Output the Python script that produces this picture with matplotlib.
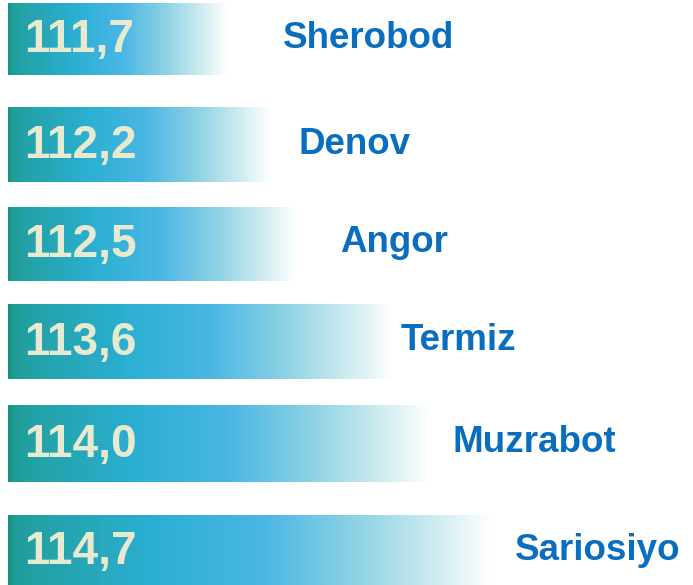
import matplotlib
matplotlib.use("Agg")
import matplotlib.pyplot as plt
import numpy as np
from matplotlib.colors import LinearSegmentedColormap
import matplotlib.transforms as mtransforms

# ---- data ----
districts = ["Sherobod", "Denov", "Angor", "Termiz", "Muzrabot", "Sariosiyo"]
values = [111.7, 112.2, 112.5, 113.6, 114.0, 114.7]
value_labels = ["111,7", "112,2", "112,5", "113,6", "114,0", "114,7"]

# ---- layout (pixel units) ----
W, H, DPI = 693, 585, 100
px_per_unit = 88.3
left_px = 8
x_min = 109.23 - left_px / px_per_unit
x_max = x_min + W / px_per_unit
y_centers = [39, 145, 244, 342, 444, 551]
bar_heights = [72, 75, 74, 75, 77, 72]
label_gap_px = [57, 28, 43, 7, 23, 24]
baseline = 109.23

cmap = LinearSegmentedColormap.from_list("bar", [
    (0.0, "#178f80"),
    (0.012, "#1f9c96"),
    (0.05, "#22a1a4"),
    (0.30, "#2bafd2"),
    (0.52, "#49b6e4"),
    (0.72, "#8dd2e4"),
    (0.88, "#cdebf0"),
    (1.0, "#ffffff"),
])

fig = plt.figure(figsize=(W / DPI, H / DPI), dpi=DPI)
ax = fig.add_axes([0, 0, 1, 1])
ax.set_xlim(x_min, x_max)
ax.set_ylim(H, 0)
ax.axis("off")

grad = np.linspace(0, 1, 512).reshape(1, -1)
for name, v, lab, yc, h, gap in zip(districts, values, value_labels,
                                     y_centers, bar_heights, label_gap_px):
    ax.imshow(grad, cmap=cmap, aspect="auto", interpolation="bilinear",
              extent=(baseline, v, yc + h / 2, yc - h / 2), zorder=1)
    ax.text(baseline + 16 / px_per_unit, yc + 1, lab, color="#e8ead0",
            fontsize=33, fontweight="bold", family="Liberation Sans",
            va="center", ha="left", zorder=3)
    tr = mtransforms.offset_copy(ax.transData, fig=fig, x=gap * 72 / DPI,
                                 y=1 * 72 / DPI, units="points")
    ax.text(v, yc, name, color="#0a6ec0", fontsize=26.5, fontweight="bold",
            family="Liberation Sans", va="center", ha="left",
            transform=tr, zorder=3)

ax.set_xlim(x_min, x_max)
ax.set_ylim(H, 0)
fig.savefig("out.png", dpi=DPI, facecolor="white")
